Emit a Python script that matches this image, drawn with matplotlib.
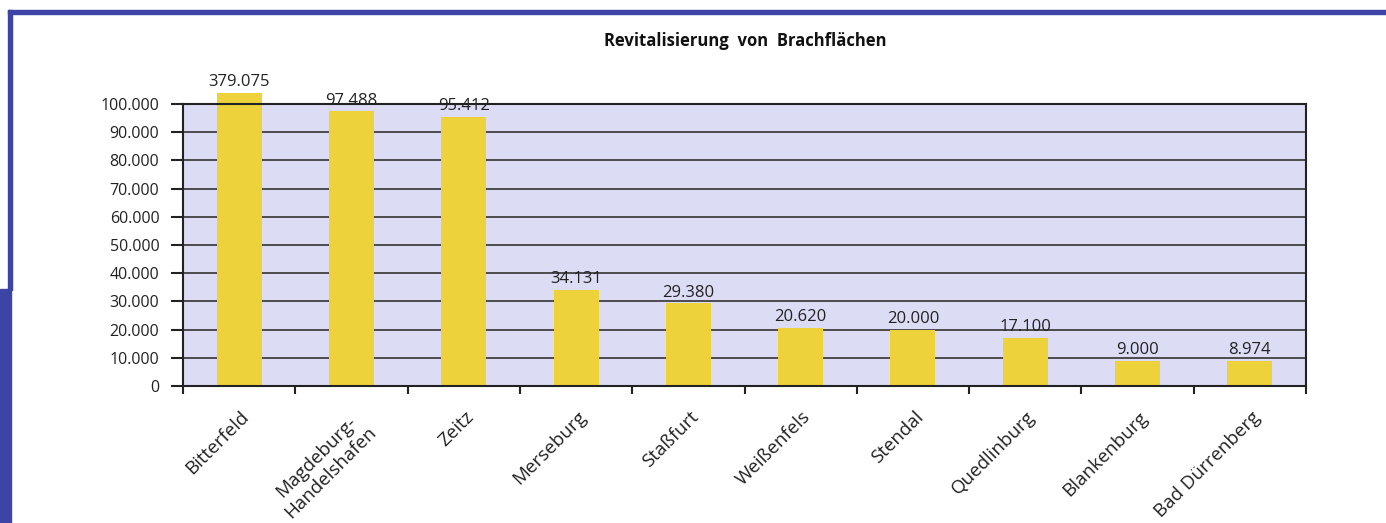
import matplotlib
matplotlib.use("Agg")
import matplotlib.pyplot as plt
from matplotlib.patches import Rectangle
from matplotlib.transforms import offset_copy
import numpy as np

categories = ["Bitterfeld", "Magdeburg-\nHandelshafen", "Zeitz", "Merseburg", "Staßfurt",
              "Weißenfels", "Stendal", "Quedlinburg", "Blankenburg", "Bad Dürrenberg"]
values = [379075, 97488, 95412, 34131, 29380, 20620, 20000, 17100, 9000, 8974]
value_labels = ["379.075", "97.488", "95.412", "34.131", "29.380", "20.620", "20.000", "17.100", "9.000", "8.974"]
yticks = [0, 10000, 20000, 30000, 40000, 50000, 60000, 70000, 80000, 90000, 100000]
ytick_labels = ["0", "10.000", "20.000", "30.000", "40.000", "50.000", "60.000", "70.000", "80.000", "90.000", "100.000"]

plt.rcParams['font.family'] = ['Open Sans', 'DejaVu Sans']

fig = plt.figure(figsize=(13.86, 5.23), dpi=100)
W, H = 1386, 523

# decorative frame
blue = "#3c45a6"
fig.patches.append(Rectangle((8 / W, 1 - 14 / H), 1 - 8 / W, 4 / H, transform=fig.transFigure,
                             color=blue, zorder=0))
fig.patches.append(Rectangle((8 / W, 1 - 290 / H), 4 / W, (290 - 10) / H, transform=fig.transFigure,
                             color=blue, zorder=0))
fig.patches.append(Rectangle((0, 0), 11 / W, 1 - 289 / H, transform=fig.transFigure,
                             color=blue, zorder=0))

ax = fig.add_axes([183 / W, 1 - 386 / H, (1306 - 183) / W, (386 - 104) / H])
ax.set_facecolor("#dcdcf5")
ax.set_xlim(0, len(categories))
ax.set_ylim(0, 100000)

cap = 104000  # bars above the axis range are cut just above the top
x = np.arange(len(categories)) + 0.5
heights = np.minimum(values, cap)
ax.bar(x, heights, width=0.4, color="#edd23b", zorder=3, clip_on=False)

for xi, h, lab in zip(x, heights, value_labels):
    ax.text(xi, h + 900, lab, ha="center", va="bottom", fontsize=12, color="#222222", zorder=4)

ax.set_yticks(yticks)
ax.set_yticklabels(ytick_labels, fontsize=11.5, color="#222222")
for y in yticks[1:]:
    ax.axhline(y, color="#333333", lw=1.2, zorder=2)

ax.set_xticks(np.arange(len(categories) + 1))
ax.set_xticklabels([])
ax.tick_params(axis="x", which="major", length=6, width=1.5, color="#222222", direction="out")
ax.tick_params(axis="y", length=9, width=1.5, color="#222222", pad=8)

lab_tr = offset_copy(ax.get_xaxis_transform(), fig=fig, x=1, y=-22, units="dots")
for xi, name in zip(x, categories):
    ax.text(xi, 0, name, transform=lab_tr, rotation=45, ha="right", va="top",
            rotation_mode="anchor", fontsize=13.5, color="#222222", multialignment="center")

for s in ax.spines.values():
    s.set_color("#222222")
    s.set_linewidth(1.5)
    s.set_zorder(5)

fig.text(745 / W, 1 - 41 / H, "Revitalisierung  von  Brachflächen", ha="center", va="center",
         fontsize=12, fontweight="bold", color="#111111")

fig.savefig("out.png", dpi=100)
